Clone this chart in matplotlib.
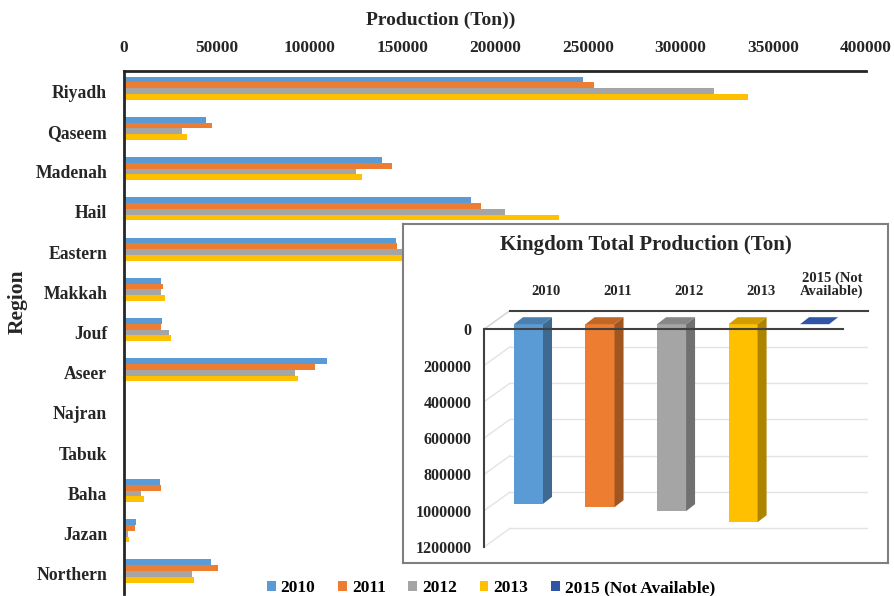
import matplotlib
matplotlib.use("Agg")
import matplotlib.pyplot as plt
import numpy as np
from matplotlib.patches import Patch

plt.rcParams['font.family'] = ['Liberation Serif', 'DejaVu Serif']
plt.rcParams['font.weight'] = 'bold'

regions = ["Riyadh", "Qaseem", "Madenah", "Hail", "Eastern", "Makkah", "Jouf",
           "Aseer", "Najran", "Tabuk", "Baha", "Jazan", "Northern"]
years = ["2010", "2011", "2012", "2013", "2015 (Not Available)"]
prod_2010 = [247700, 44400, 139300, 187000, 146900, 20100, 20600, 109300, 0, 0, 19500, 6600, 46700]
prod_2011 = [253100, 47600, 144400, 192200, 147100, 21000, 20100, 102800, 0, 0, 19900, 6000, 50800]
prod_2012 = [317900, 31100, 125000, 205300, 164000, 19700, 24000, 92000, 0, 0, 9300, 2000, 36900]
prod_2013 = [336600, 34000, 128500, 234600, 163000, 22000, 25600, 93700, 0, 0, 10700, 2500, 37900]
prod_2015 = [0] * 13

total_labels = ["2010", "2011", "2012", "2013", "2015 (Not\nAvailable)"]
total_values = [990000, 1008000, 1030000, 1091000, 0]

colors = ["#5B9BD5", "#ED7D31", "#A5A5A5", "#FFC000", "#2F55A4"]
txt = '#262626'

W, H = 895, 596
fig = plt.figure(figsize=(W / 100, H / 100), dpi=100)

def rect(l, t, r, b):
    return [l / W, 1 - b / H, (r - l) / W, (b - t) / H]

# ---------------- main chart ----------------
ax = fig.add_axes(rect(124, 71, 866, 594))
ax.set_zorder(1)
series = [prod_2010, prod_2011, prod_2012, prod_2013, prod_2015]
y = np.arange(len(regions))
h = 0.144
for k, (vals, c) in enumerate(zip(series, colors)):
    ax.barh(y + (k - 2) * h, vals, height=h, color=c, edgecolor='none')
ax.set_ylim(12.5, -0.5)
ax.set_xlim(0, 400000)
ax.set_yticks(y)
ax.set_yticklabels(regions, fontsize=12.7, fontweight='bold', color=txt)
ax.set_xticks(np.arange(0, 400001, 50000))
ax.set_xticklabels([str(v) for v in range(0, 400001, 50000)], fontsize=12.5,
                   fontweight='bold', color=txt)
ax.xaxis.tick_top()
ax.tick_params(axis='x', length=0, pad=11)
ax.tick_params(axis='y', length=0, pad=12)
for s in ['right', 'bottom']:
    ax.spines[s].set_visible(False)
for s in ['top', 'left']:
    ax.spines[s].set_linewidth(2)
    ax.spines[s].set_color(txt)
fig.text(441 / W, 1 - 20 / H, "Production (Ton))", ha='center', va='center',
         fontsize=14, fontweight='bold', color=txt)
fig.text(18 / W, 1 - 302 / H, "Region", rotation=90, ha='center', va='center',
         fontsize=15.5, fontweight='bold', color=txt)

handles = [Patch(facecolor=c, edgecolor='none') for c in colors]
fig.legend(handles, years, loc='center', bbox_to_anchor=(491 / W, 1 - 588 / H), ncol=5,
           frameon=False, handlelength=0.5, handleheight=0.5,
           handletextpad=0.3, columnspacing=1.3, borderaxespad=0, borderpad=0,
           prop={'weight': 'bold', 'size': 12.5})

# ---------------- inset ----------------
bg = fig.add_axes(rect(403, 224, 888, 563))
bg.set_zorder(2)
bg.set_facecolor('white')
bg.set_xticks([]); bg.set_yticks([])
for s in bg.spines.values():
    s.set_color('#7F7F7F'); s.set_linewidth(1.5)
bg.text(0.5, 1 - 21 / 339, "Kingdom Total Production (Ton)", transform=bg.transAxes,
        ha='center', va='center', fontsize=15, fontweight='bold', color=txt)

ia = fig.add_axes(rect(484, 310.6, 868, 547))
ia.set_zorder(3)
ia.patch.set_alpha(0)
x_left, x_right = -0.622, 4.747
ia.set_xlim(x_left, x_right)
ia.set_ylim(1200000, -102500)
for s in ia.spines.values():
    s.set_visible(False)

depth_x, depth_y = 0.363, -102500
grid_vals = np.arange(200000, 1200001, 200000)
for v in grid_vals:
    ia.plot([x_left, x_left + depth_x], [v, v + depth_y], color='#E3E3E3', lw=1, zorder=1)
    ia.plot([x_left + depth_x, x_right], [v + depth_y, v + depth_y], color='#E3E3E3', lw=1, zorder=1)
ia.plot([x_left, x_left + depth_x], [0, depth_y], color='#D0D0D0', lw=1, zorder=1)
ia.plot([x_left + depth_x, x_right], [depth_y, depth_y], color='#404040', lw=1.5, zorder=1,
        clip_on=False)

bw = 0.406
off = -27500
sdx, sdy = 0.126, -38600

def shade(c, f):
    rgb = np.array(matplotlib.colors.to_rgb(c))
    return tuple(rgb * f)

xs = np.arange(len(total_values))
for i, (v, c) in enumerate(zip(total_values, colors)):
    xl, xr = i - bw / 2, i + bw / 2
    ia.bar(i, v, bottom=off, width=bw, color=c, edgecolor='none', zorder=3)
    if v > 0:
        ia.fill([xr, xr + sdx, xr + sdx, xr], [off, off + sdy, off + v + sdy, off + v],
                color=shade(c, 0.68), lw=0, zorder=3)
    ia.fill([xl, xr, xr + sdx, xl + sdx], [off, off, off + sdy, off + sdy],
            color=shade(c, 0.82) if v > 0 else c, lw=0, zorder=4)

ia.plot([x_left, 4.40], [0, 0], color='#404040', lw=1.5, zorder=5, clip_on=False)
ia.plot([x_left, x_left], [0, 1200000], color='#404040', lw=1.5, zorder=5, clip_on=False)

ia.set_yticks(np.arange(0, 1200001, 200000))
ia.set_yticklabels([str(v) for v in range(0, 1200001, 200000)], fontsize=11.5,
                   fontweight='bold', color=txt)
ia.tick_params(axis='y', length=0, pad=9)
ia.set_xticks(xs + 0.245)
ia.set_xticklabels(total_labels, fontsize=10.5, fontweight='bold', color=txt,
                   linespacing=1.0)
ia.xaxis.tick_top()
ia.tick_params(axis='x', length=0, pad=9)

fig.savefig("out.png", dpi=100)
